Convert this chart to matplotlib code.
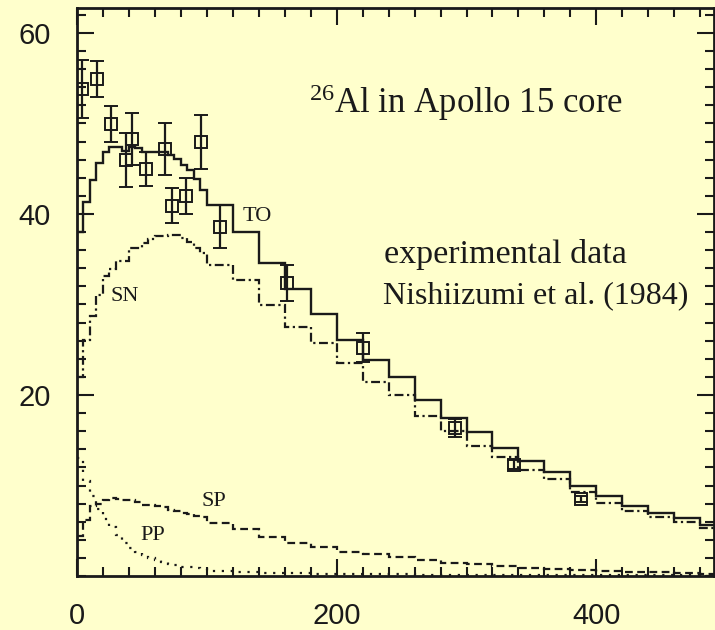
import numpy as np
import matplotlib
matplotlib.use('Agg')
import matplotlib.pyplot as plt
from matplotlib.ticker import MultipleLocator

plt.rcParams['mathtext.fontset'] = 'custom'
plt.rcParams['mathtext.rm'] = 'Liberation Serif'
plt.rcParams['mathtext.default'] = 'rm'

# depth bins (g/cm2): 5-wide up to 100, then 20-wide
edges = np.r_[0:100:5, 100:501:20]

# calculated 26Al production (dpm/kg) per bin
total = [38.0, 41.3, 43.8, 45.6, 46.9, 47.4, 47.4, 47.0, 47.4, 47.3,
         46.9, 46.9, 46.9, 46.9, 46.5, 46.1, 45.4, 44.9, 43.9, 42.65,
         41.0, 38.0, 34.55, 31.7, 29.0, 26.1, 23.9, 22.0, 19.5, 17.5,
         15.9, 14.1, 12.7, 11.5, 9.9, 8.8, 7.7, 7.0, 6.4, 5.6]
sec_n = [22.0, 26.1, 28.7, 31.0, 33.1, 33.9, 34.8, 34.8, 36.2, 36.2,
         36.8, 37.2, 37.6, 37.6, 37.7, 37.7, 37.4, 36.9, 36.2, 35.7,
         34.4, 32.7, 29.9, 27.5, 25.7, 23.5, 21.4, 20.0, 17.7, 16.06,
         14.4, 13.1, 11.7, 10.7, 9.25, 8.1, 7.2, 6.55, 6.0, 5.3]
sec_p = [4.4, 6.2, 7.7, 8.0, 8.4, 8.6, 8.5, 8.4, 8.4, 8.2,
         7.9, 7.85, 7.7, 7.6, 7.3, 7.2, 7.0, 6.85, 6.6, 6.5,
         5.9, 5.16, 4.27, 3.68, 3.24, 2.69, 2.4, 2.07, 1.73, 1.47,
         1.29, 1.1, 0.94, 0.8, 0.66, 0.55, 0.46, 0.4, 0.32, 0.25]
prim_p = [13.0, 10.5, 8.8, 7.4, 6.3, 5.4, 4.5, 3.7, 3.1, 2.7,
          2.3, 2.0, 1.75, 1.55, 1.35, 1.2, 1.05, 0.95, 0.85, 0.75,
          0.6, 0.48, 0.38, 0.3, 0.25, 0.22, 0.19, 0.17, 0.15, 0.13,
          0.12, 0.11, 0.1, 0.09, 0.08, 0.07, 0.07, 0.06, 0.06, 0.05]

# Nishiizumi et al. (1984) measurements
depth = [4, 15.6, 26.4, 38, 42, 53, 68, 73.4, 84, 95.6, 110, 162, 220.5, 291, 336.5, 388]
al26 = [53.8, 54.9, 49.9, 46.0, 48.3, 45.0, 47.2, 40.9, 42.0, 47.95, 38.6, 32.4, 25.2, 16.35, 12.3, 8.5]
al26_err = [3.2, 2.0, 2.0, 3.0, 2.9, 1.9, 2.9, 1.95, 2.0, 3.0, 2.4, 2.0, 1.6, 1.0, 0.5, 0.3]

bg = '#ffffcc'
ink = '#1a1a1a'

fig = plt.figure(figsize=(7.15, 6.3), dpi=100, facecolor=bg)
ax = fig.add_axes([0.1077, 0.0857, 0.8916, 0.9016], facecolor=bg)

ax.stairs(total, edges, baseline=None, color=ink, lw=1.7)
ax.stairs(sec_n, edges, baseline=None, color=ink, lw=1.6, linestyle=(0, (4, 1.6, 1, 1.6)))
ax.stairs(sec_p, edges, baseline=None, color=ink, lw=1.6, linestyle=(0, (3.5, 2)))
ax.stairs(prim_p, edges, baseline=None, color=ink, lw=1.6, linestyle=(0, (1, 3)))

ax.errorbar(depth, al26, yerr=al26_err, fmt='s', ms=8, mfc='none', mec=ink, mew=1.4,
            ecolor=ink, elinewidth=1.6, capsize=5, capthick=1.6)

ax.set_xlim(0, 491)
ax.set_ylim(0, 62.76)
ax.xaxis.set_major_locator(MultipleLocator(200))
ax.xaxis.set_minor_locator(MultipleLocator(20))
ax.yaxis.set_major_locator(MultipleLocator(20))
ax.yaxis.set_minor_locator(MultipleLocator(2))
ax.tick_params(which='both', direction='in', top=True, right=True, width=1.5, color=ink)
ax.tick_params(which='major', length=12.5, pad=19, labelsize=21, labelcolor=ink)
ax.tick_params(which='minor', length=6.5)
ax.set_yticks([20, 40, 60])
for lab in ax.get_xticklabels() + ax.get_yticklabels():
    lab.set_family('Liberation Sans')
for s in ax.spines.values():
    s.set_linewidth(2)
    s.set_color(ink)

serif = 'Liberation Serif'
ax.text(299.5, 52.3, r'$^{26}$Al in Apollo 15 core', family=serif, size=25,
        ha='center', va='center', color=ink)
ax.text(236.4, 35.5, 'experimental data', family=serif, size=24.5, ha='left', va='center', color=ink)
ax.text(235.5, 31.0, 'Nishiizumi et al. (1984)', family=serif, size=23, ha='left', va='center', color=ink)
ax.text(138.7, 39.7, 'TO', family=serif, size=16, ha='center', va='center', color=ink)
ax.text(36.4, 30.9, 'SN', family=serif, size=16, ha='center', va='center', color=ink)
ax.text(105.6, 8.2, 'SP', family=serif, size=16, ha='center', va='center', color=ink)
ax.text(58.3, 4.5, 'PP', family=serif, size=16, ha='center', va='center', color=ink)

fig.savefig('out.png', dpi=100, facecolor=bg)
